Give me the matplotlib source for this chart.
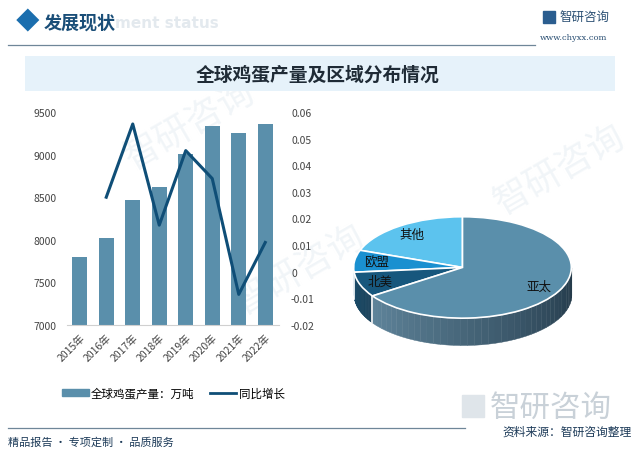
import matplotlib
matplotlib.use("Agg")
import matplotlib.pyplot as plt
import numpy as np
from matplotlib.patches import Rectangle
from matplotlib.lines import Line2D
from matplotlib.colors import to_rgb

plt.rcParams['font.family'] = ['Noto Sans CJK SC', 'DejaVu Sans']

# data
years = ["2015年", "2016年", "2017年", "2018年", "2019年", "2020年", "2021年", "2022年"]
output = [7800, 8025, 8465, 8625, 9005, 9330, 9255, 9360]
growth = [np.nan, 0.028, 0.0555, 0.0175, 0.0455, 0.035, -0.0085, 0.011]

regions = ["其他", "欧盟", "北美", "亚太"]
shares = [19.5, 7.0, 8.0, 65.5]
region_colors = ["#5cc3ee", "#1a90d0", "#17577d", "#5a8fab"]
# side wall colours (light end, dark end)
side_colors = [("#4aa3cc", "#3a8ab0"), ("#167bb3", "#146fa0"),
               ("#1b4d6b", "#173f58"), ("#5e8399", "#213747")]

bar_color = "#5a8fab"
line_color = "#0f4e77"
W, H = 640, 460


def fx(x):
    return x / W


def fy(y):
    return 1 - y / H


fig = plt.figure(figsize=(6.4, 4.6), dpi=100)
fig.patch.set_facecolor("white")

# faint watermarks, kept behind the axes
for (x, y) in [(190, 125), (300, 270), (560, 170)]:
    fig.text(fx(x), fy(y), "智研咨询", fontsize=26, color="#f1f5f8",
             rotation=30, ha="center", va="center", zorder=-1)

# header
fig.text(fx(28), fy(23), "\u25C6", fontsize=17, color="#1b6eae", ha="center", va="center")
fig.text(fx(115), fy(24), "ment status", fontsize=11, color="#e3e9ee",
         fontweight="bold", ha="left", va="center", family="DejaVu Sans")
fig.text(fx(44), fy(23), "发展现状", fontsize=13, color="#1a4e78",
         fontweight="bold", ha="left", va="center")
fig.add_artist(Line2D([fx(8), fx(535)], [fy(46), fy(46)], color="#6f8698", lw=0.9))
fig.add_artist(Rectangle((fx(543), fy(24)), fx(12), 12 / H, color="#2a5d8f"))
fig.text(fx(560), fy(17), "智研咨询", fontsize=9, color="#2a4f73", ha="left", va="center")
fig.text(fx(540), fy(38), "www.chyxx.com", fontsize=6, color="#2a4f73",
         ha="left", va="center", family="DejaVu Serif")

# title band
fig.add_artist(Rectangle((fx(25), fy(92)), fx(590), 35 / H, color="#e6f2fa", lw=0))
fig.text(fx(318), fy(75), "全球鸡蛋产量及区域分布情况", fontsize=13.5,
         color="#1f2b36", fontweight="bold", ha="center", va="center")

# bar + line chart
ax = fig.add_axes([fx(66.5), fy(326), 212 / W, (326 - 113) / H])
ax.set_facecolor("none")
xpos = np.arange(len(years))
ax.bar(xpos, output, width=0.57, color=bar_color, zorder=2)
ax.set_xlim(-0.5, len(years) - 0.5)
ax.set_ylim(7000, 9500)
ax.set_yticks(range(7000, 9501, 500))
ax.set_xticks(xpos)
ax.set_xticklabels(years, rotation=45, ha="right", rotation_mode="anchor")
ax.tick_params(axis="both", length=0, labelsize=7.5, labelcolor="#444444")
ax.tick_params(axis="y", pad=7)
ax.tick_params(axis="x", pad=5)
for s in ["top", "left", "right"]:
    ax.spines[s].set_visible(False)
ax.spines["bottom"].set_color("#d0d0d0")

ax2 = ax.twinx()
ax2.plot(xpos, growth, color=line_color, lw=2.2, zorder=3)
ax2.set_ylim(-0.02, 0.06)
gt = np.round(np.arange(-0.02, 0.0601, 0.01), 2)
ax2.set_yticks(gt)
ax2.set_yticklabels([f"{v:g}" for v in gt])
ax2.tick_params(axis="y", length=0, labelsize=7.5, labelcolor="#444444", pad=9)
for s in ["top", "left", "right", "bottom"]:
    ax2.spines[s].set_visible(False)

fig.legend(handles=[Rectangle((0, 0), 1, 1, color=bar_color),
                    Line2D([0], [0], color=line_color, lw=2)],
           labels=["全球鸡蛋产量：万吨", "同比增长"],
           loc="center left", bbox_to_anchor=(fx(52), fy(394)), ncol=2,
           frameon=False, fontsize=8.3, handlelength=2.3, handleheight=0.5,
           handletextpad=0.2, columnspacing=1.3)

# 3D-looking pie
axp = fig.add_axes([fx(321), fy(380), 283 / W, 187.6 / H])
axp.set_facecolor("none")
wedges, texts = axp.pie(shares, labels=regions, colors=region_colors,
                        startangle=90, counterclock=True, labeldistance=0.8,
                        wedgeprops=dict(edgecolor="white", linewidth=1.2, zorder=3),
                        textprops=dict(fontsize=9, color="#111111"))
for t in texts:
    t.set_ha("center")
    t.set_va("center")
    t.set_zorder(5)
axp.set_aspect("auto")
axp.set_xlim(-1.3, 1.3)
axp.set_ylim(-2.2, 1.5)
depth = 0.53

for w, (c1, c2) in zip(wedges, side_colors):
    lo, hi = max(w.theta1, 180), min(w.theta2, 360)
    if hi <= lo:
        continue
    n = 40
    edges = np.linspace(lo, hi, n + 1)
    r1, r2 = np.array(to_rgb(c1)), np.array(to_rgb(c2))
    for i in range(n):
        t = np.radians(np.linspace(edges[i], edges[i + 1], 6))
        c = r1 + (r2 - r1) * (i / (n - 1))
        axp.fill_between(np.cos(t), np.sin(t), np.sin(t) - depth,
                         color=c, lw=0.3, edgecolor=c, zorder=1)
    if 180 < lo < 360:
        xb = np.cos(np.radians(lo))
        yb = np.sin(np.radians(lo))
        axp.plot([xb, xb], [yb, yb - depth], color="white", lw=1.2, zorder=2)

# footer
fig.add_artist(Line2D([fx(8), fx(465)], [fy(429), fy(429)], color="#6f8698", lw=0.9))
fig.text(fx(8), fy(443), "精品报告 · 专项定制 · 品质服务", fontsize=8,
         color="#1c3a58", ha="left", va="center")
fig.add_artist(Rectangle((fx(462), fy(418)), fx(22), 22 / H, color="#dfe5ea"))
fig.text(fx(490), fy(408), "智研咨询", fontsize=22, color="#c9d1d8",
         ha="left", va="center")
fig.text(fx(632), fy(432), "资料来源：智研咨询整理", fontsize=8.5,
         color="#1c3a58", ha="right", va="center")

fig.savefig("out.png", dpi=100)
